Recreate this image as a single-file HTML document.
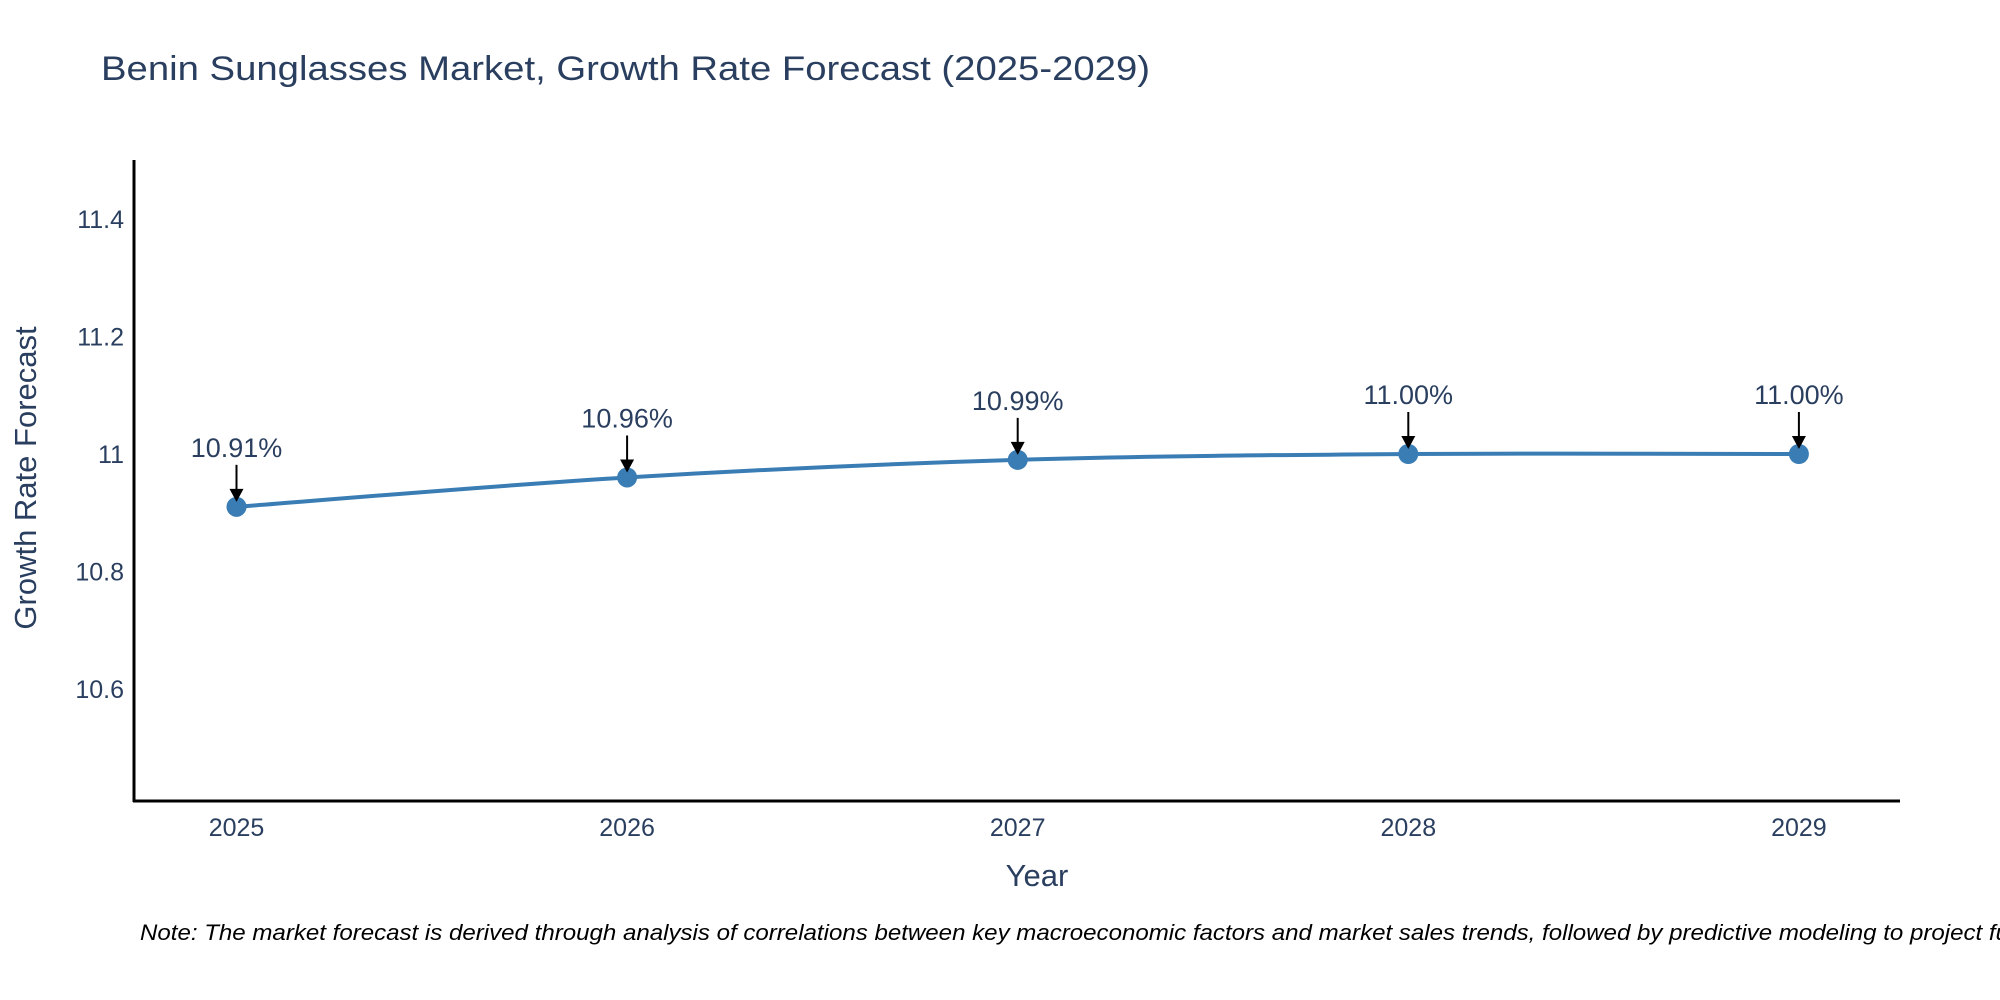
<!DOCTYPE html>
<html><head><meta charset="utf-8"><style>
body{margin:0;background:#fff;}
svg{display:block;font-family:"Liberation Sans","DejaVu Sans",sans-serif;}
</style></head><body>
<svg id="chart" width="2000" height="1000" viewBox="0 0 2000 1000">
<rect width="2000" height="1000" fill="#fff"/>
<text x="101" y="80" font-size="34" fill="#2a3f5f" textLength="1049" lengthAdjust="spacingAndGlyphs">Benin Sunglasses Market, Growth Rate Forecast (2025-2029)</text>
<g id="yticks"></g>
<g id="xticks"></g>
<line x1="134" y1="160" x2="134" y2="802" stroke="#000" stroke-width="3"/>
<line x1="133" y1="801" x2="1900" y2="801" stroke="#000" stroke-width="3"/>
<path id="series" fill="none" stroke="#3a7db5" stroke-width="4"/>
<g id="points"></g>
<g id="annots"></g>
<text x="1037" y="886" font-size="31" fill="#2a3f5f" text-anchor="middle">Year</text>
<text transform="translate(36,478) rotate(-90)" font-size="31" fill="#2a3f5f" text-anchor="middle">Growth Rate Forecast</text>
<text x="140" y="940" font-size="22" font-style="italic" fill="#000" textLength="1980" lengthAdjust="spacingAndGlyphs">Note: The market forecast is derived through analysis of correlations between key macroeconomic factors and market sales trends, followed by predictive modeling to project future sales.</text>
</svg>
<script>
const years = [2025, 2026, 2027, 2028, 2029];
const values = [10.91, 10.96, 10.99, 11.00, 11.00];
const labels = ["10.91%", "10.96%", "10.99%", "11.00%", "11.00%"];
const yTickVals = [10.6, 10.8, 11.0, 11.2, 11.4];
const yTickLabels = ["10.6", "10.8", "11", "11.2", "11.4"];
const NS = "http://www.w3.org/2000/svg";
const xs = y => 236.5 + (y - 2025) * 390.6;
const ys = v => 454 - (v - 11.0) * 587;
function mk(tag, attrs, parent){const e=document.createElementNS(NS,tag);for(const k in attrs)e.setAttribute(k,attrs[k]);parent.appendChild(e);return e;}
const yt=document.getElementById('yticks');
yTickVals.forEach((v,i)=>{
  const t=mk('text',{x:124,y:ys(v)+9,'font-size':25,fill:'#2a3f5f','text-anchor':'end'},yt);
  
  
  t.textContent=yTickLabels[i];
});
const xt=document.getElementById('xticks');
years.forEach(y=>{
  const t=mk('text',{x:xs(y),y:836,'font-size':25,fill:'#2a3f5f','text-anchor':'middle'},xt);
  
  
  t.textContent=String(y);
});
const P=years.map((y,i)=>[xs(y),ys(values[i])]);
let d=`M${P[0][0]},${P[0][1]}`;
const s=0.5/3*2;
for(let i=0;i<P.length-1;i++){
  const p0=P[Math.max(i-1,0)],p1=P[i],p2=P[i+1],p3=P[Math.min(i+2,P.length-1)];
  const c1=[p1[0]+(p2[0]-p0[0])*s/2,p1[1]+(p2[1]-p0[1])*s/2];
  const c2=[p2[0]-(p3[0]-p1[0])*s/2,p2[1]-(p3[1]-p1[1])*s/2];
  d+=` C${c1[0]},${c1[1]} ${c2[0]},${c2[1]} ${p2[0]},${p2[1]}`;
}
document.getElementById('series').setAttribute('d',d);
const pg=document.getElementById('points'), ag=document.getElementById('annots');
P.forEach((p,i)=>{
  const c=mk('circle',{cx:p[0],cy:p[1],r:10,fill:'#3a7db5'},pg);
  
  
  const l=mk('line',{x1:p[0],y1:p[1]-42,x2:p[0],y2:p[1]-14,stroke:'#000','stroke-width':2},ag);
  
  
  const h=mk('path',{d:`M${p[0]-7},${p[1]-18} L${p[0]+7},${p[1]-18} L${p[0]},${p[1]-5} Z`,fill:'#000'},ag);
  
  
  const t=mk('text',{x:p[0],y:p[1]-50,'font-size':27,fill:'#2a3f5f','text-anchor':'middle'},ag);
  
  
  t.textContent=labels[i];
});
</script>
</body></html>
